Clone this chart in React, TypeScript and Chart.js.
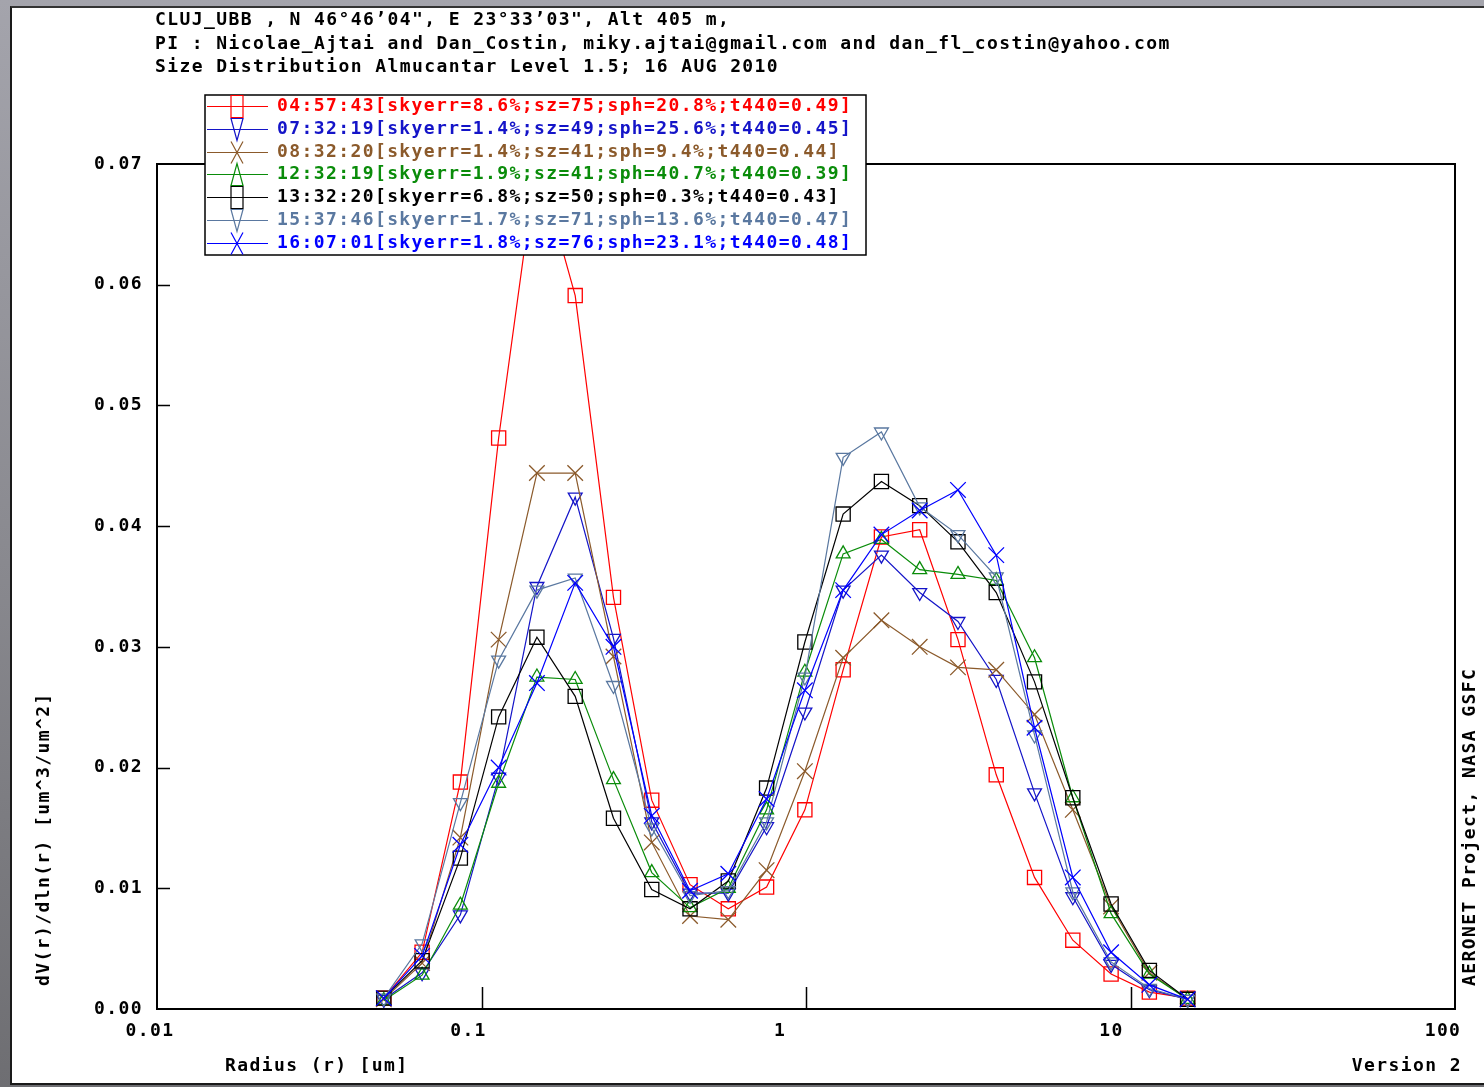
import React, { useEffect, useRef } from 'react';
import { Chart, registerables } from 'chart.js';
Chart.register(...registerables);

// Radius bins (um)
const radii = [0.05, 0.065604, 0.086077, 0.112939, 0.148184, 0.194429, 0.255105, 0.334716, 0.439173, 0.576227, 0.756052, 0.991996, 1.301571, 1.707757, 2.240702, 2.939966, 3.857452, 5.06126, 6.640745, 8.713145, 11.432287, 15.0];

// dV(r)/dln(r) values per retrieval
const s045743 = [0.0009, 0.0047, 0.0188, 0.0473, 0.0705, 0.0591, 0.0341, 0.0173, 0.0103, 0.0083, 0.0101, 0.0165, 0.0281, 0.0391, 0.0397, 0.0306, 0.0194, 0.0109, 0.0057, 0.0029, 0.0014, 0.0009];
const s073219 = [0.0008, 0.0030, 0.0078, 0.0192, 0.0350, 0.0424, 0.0307, 0.0155, 0.0096, 0.0096, 0.0151, 0.0246, 0.0347, 0.0376, 0.0345, 0.0321, 0.0273, 0.0179, 0.0093, 0.0037, 0.0016, 0.0008];
const s083220 = [0.0008, 0.0038, 0.0142, 0.0306, 0.0444, 0.0444, 0.0292, 0.0138, 0.0077, 0.0074, 0.0115, 0.0197, 0.0291, 0.0322, 0.0300, 0.0283, 0.0281, 0.0244, 0.0165, 0.0085, 0.0030, 0.0008];
const s123219 = [0.0007, 0.0028, 0.0086, 0.0187, 0.0275, 0.0273, 0.0190, 0.0113, 0.0084, 0.0100, 0.0165, 0.0279, 0.0377, 0.0389, 0.0364, 0.0360, 0.0355, 0.0291, 0.0175, 0.0079, 0.0029, 0.0008];
const s133220 = [0.0009, 0.0040, 0.0125, 0.0242, 0.0308, 0.0259, 0.0158, 0.0099, 0.0083, 0.0106, 0.0183, 0.0304, 0.0410, 0.0437, 0.0417, 0.0387, 0.0345, 0.0271, 0.0175, 0.0087, 0.0032, 0.0008];
const s153746 = [0.0009, 0.0054, 0.0171, 0.0289, 0.0347, 0.0357, 0.0268, 0.0150, 0.0094, 0.0098, 0.0155, 0.0275, 0.0457, 0.0478, 0.0416, 0.0393, 0.0358, 0.0227, 0.0097, 0.0039, 0.0017, 0.0008];
const s160701 = [0.0009, 0.0044, 0.0136, 0.0200, 0.0270, 0.0353, 0.0300, 0.0160, 0.0098, 0.0112, 0.0174, 0.0264, 0.0347, 0.0393, 0.0413, 0.0430, 0.0376, 0.0233, 0.0109, 0.0047, 0.0020, 0.0008];

const seriesValues = [s045743, s073219, s083220, s123219, s133220, s153746, s160701];
const seriesLabels = [
  '04:57:43[skyerr=8.6%;sz=75;sph=20.8%;t440=0.49]',
  '07:32:19[skyerr=1.4%;sz=49;sph=25.6%;t440=0.45]',
  '08:32:20[skyerr=1.4%;sz=41;sph=9.4%;t440=0.44]',
  '12:32:19[skyerr=1.9%;sz=41;sph=40.7%;t440=0.39]',
  '13:32:20[skyerr=6.8%;sz=50;sph=0.3%;t440=0.43]',
  '15:37:46[skyerr=1.7%;sz=71;sph=13.6%;t440=0.47]',
  '16:07:01[skyerr=1.8%;sz=76;sph=23.1%;t440=0.48]',
];
const seriesColors = ['#ff0000', '#1414c8', '#8b5a2b', '#0a8c0a', '#000000', '#5a78a0', '#0000ff'];
const seriesMarkers = ['square', 'down', 'x', 'up', 'square', 'down', 'x'];

const xTicks = [0.01, 0.1, 1, 10, 100];
const xTickLabels = ['0.01', '0.1', '1', '10', '100'];
const yTicks = [0, 0.01, 0.02, 0.03, 0.04, 0.05, 0.06, 0.07];

const titleLines = [
  'CLUJ_UBB , N 46\u00b046\u201904", E 23\u00b033\u201903", Alt 405 m,',
  'PI : Nicolae_Ajtai and Dan_Costin, miky.ajtai@gmail.com and dan_fl_costin@yahoo.com',
  'Size Distribution Almucantar Level 1.5; 16 AUG 2010',
];
const xTitle = 'Radius (r) [um]';
const yTitle = 'dV(r)/dln(r) [um^3/um^2]';
const versionText = 'Version 2';
const sideText = 'AERONET Project, NASA GSFC';

const FONT_FAMILY = '"DejaVu Sans Mono", "Liberation Mono", monospace';
const FONT = `bold 18px ${FONT_FAMILY}`;
const SPACING = '1.4px';
// horizontal nudges of the x tick labels relative to their tick (style only)
const X_LABEL_NUDGE = [-7, -13, -26, -19, -12];

function markerStyle(m: string) {
  if (m === 'square') return { pointStyle: 'rect', radius: 10, rotation: 0 };
  if (m === 'down') return { pointStyle: 'triangle', radius: 8, rotation: 180 };
  if (m === 'up') return { pointStyle: 'triangle', radius: 8, rotation: 0 };
  return { pointStyle: 'crossRot', radius: 11, rotation: 0 };
}

function drawLegendMarker(ctx: CanvasRenderingContext2D, m: string, x: number, y: number) {
  const w = 6, h = 11;
  ctx.beginPath();
  if (m === 'square') {
    ctx.rect(x - w, y - h, 2 * w, 2 * h);
  } else if (m === 'down') {
    ctx.moveTo(x - w, y - h);
    ctx.lineTo(x + w, y - h);
    ctx.lineTo(x, y + h);
    ctx.closePath();
  } else if (m === 'up') {
    ctx.moveTo(x - w, y + h);
    ctx.lineTo(x + w, y + h);
    ctx.lineTo(x, y - h);
    ctx.closePath();
  } else {
    ctx.moveTo(x - w, y - h);
    ctx.lineTo(x + w, y + h);
    ctx.moveTo(x + w, y - h);
    ctx.lineTo(x - w, y + h);
  }
  ctx.stroke();
}

const framePlugin = {
  id: 'aeronetFrame',
  beforeDraw(chart: any) {
    (chart.ctx as any).letterSpacing = SPACING;
  },
  afterDatasetsDraw(chart: any) {
    const { ctx, chartArea, scales } = chart;
    const { left, top, right, bottom } = chartArea;
    ctx.save();
    ctx.strokeStyle = '#000';
    ctx.lineWidth = 2;
    ctx.strokeRect(left, top, right - left, bottom - top);
    ctx.lineWidth = 1.5;
    ctx.beginPath();
    yTicks.forEach((v) => {
      if (v === yTicks[0] || v === yTicks[yTicks.length - 1]) return;
      const py = Math.round(scales.y.getPixelForValue(v)) + 0.5;
      ctx.moveTo(left, py);
      ctx.lineTo(left + 13, py);
    });
    xTicks.forEach((v) => {
      if (v === xTicks[0] || v === xTicks[xTicks.length - 1]) return;
      const px = Math.round(scales.x.getPixelForValue(v)) + 0.5;
      ctx.moveTo(px, bottom);
      ctx.lineTo(px, bottom - 22);
    });
    ctx.stroke();

    // x tick labels
    (ctx as any).letterSpacing = SPACING;
    ctx.font = FONT;
    ctx.fillStyle = '#000';
    ctx.textAlign = 'center';
    ctx.textBaseline = 'middle';
    xTicks.forEach((v, i) => {
      const px = scales.x.getPixelForValue(v);
      ctx.fillText(xTickLabels[i], px + X_LABEL_NUDGE[i], bottom + 22);
    });
    ctx.restore();
  },
  afterDraw(chart: any) {
    const ctx = chart.ctx as CanvasRenderingContext2D;
    ctx.save();
    (ctx as any).letterSpacing = SPACING;
    ctx.font = FONT;
    ctx.textBaseline = 'middle';
    ctx.textAlign = 'left';
    ctx.fillStyle = '#000';
    // Title lines
    const titleY = [20, 44, 67];
    titleLines.forEach((t, i) => ctx.fillText(t, 155, titleY[i]));

    // Legend box
    const lx = 205, ly = 95, lw = 661, lh = 160;
    ctx.fillStyle = '#fff';
    ctx.fillRect(lx, ly, lw, lh);
    ctx.strokeStyle = '#000';
    ctx.lineWidth = 1.5;
    ctx.strokeRect(lx, ly, lw, lh);
    const rowStart = 106, rowStep = 22.8;
    seriesLabels.forEach((label, i) => {
      const ry = Math.round(rowStart + i * rowStep) + 0.5;
      ctx.strokeStyle = seriesColors[i];
      ctx.lineWidth = 1.2;
      ctx.beginPath();
      ctx.moveTo(207, ry);
      ctx.lineTo(268, ry);
      ctx.stroke();
      drawLegendMarker(ctx, seriesMarkers[i], 237, ry);
      ctx.fillStyle = seriesColors[i];
      ctx.fillText(label, 277, ry);
    });

    // Axis titles
    ctx.fillStyle = '#000';
    ctx.fillText(xTitle, 225, 1066);
    ctx.textAlign = 'right';
    ctx.fillText(versionText, 1462, 1066);

    ctx.save();
    ctx.translate(44, 986);
    ctx.rotate(-Math.PI / 2);
    ctx.textAlign = 'left';
    ctx.fillText(yTitle, 0, 0);
    ctx.restore();

    ctx.save();
    ctx.translate(1470, 986);
    ctx.rotate(-Math.PI / 2);
    ctx.textAlign = 'left';
    ctx.fillText(sideText, 0, 0);
    ctx.restore();

    ctx.restore();
  },
};

export default function App() {
  const ref = useRef<HTMLCanvasElement>(null);
  useEffect(() => {
    const canvas = ref.current;
    if (!canvas) return;
    const n = seriesValues.length;
    const datasets = seriesValues.map((vals, i) => {
      const mk = markerStyle(seriesMarkers[i]);
      return {
        label: seriesLabels[i],
        data: vals.map((v, j) => ({ x: radii[j], y: v })),
        borderColor: seriesColors[i],
        backgroundColor: 'transparent',
        borderWidth: 1.2,
        tension: 0,
        pointStyle: mk.pointStyle,
        pointRadius: mk.radius,
        pointRotation: mk.rotation,
        pointBorderColor: seriesColors[i],
        pointBackgroundColor: 'rgba(0,0,0,0)',
        pointBorderWidth: 1.3,
        fill: false,
        order: n - i,
      };
    });
    const tickFont = { family: FONT_FAMILY, size: 18, weight: 'bold' as const };
    const chart = new Chart(canvas, {
      type: 'line',
      data: { datasets: datasets as any },
      options: {
        responsive: false,
        animation: false,
        devicePixelRatio: 1,
        parsing: false as any,
        layout: { padding: { left: 0, top: 164, right: 29, bottom: 0 } },
        plugins: {
          legend: { display: false },
          tooltip: { enabled: false },
          title: { display: false },
        },
        scales: {
          x: {
            type: 'logarithmic',
            min: 0.01,
            max: 100,
            afterBuildTicks: (s: any) => {
              s.ticks = xTicks.map((v) => ({ value: v }));
            },
            afterFit: (s: any) => {
              s.height = 78;
            },
            grid: { display: false, drawTicks: false },
            border: { display: false },
            ticks: { display: false },
          },
          y: {
            type: 'linear',
            min: 0,
            max: 0.07,
            afterBuildTicks: (s: any) => {
              s.ticks = yTicks.map((v) => ({ value: v }));
            },
            afterFit: (s: any) => {
              s.width = 157;
            },
            grid: { display: false, drawTicks: false },
            border: { display: false },
            ticks: {
              padding: 14,
              color: '#000',
              font: tickFont,
              callback: (v: any) => Number(v).toFixed(2),
            },
          },
        },
      } as any,
      plugins: [framePlugin as any],
    });
    return () => chart.destroy();
  }, []);

  return (
    <div
      style={{
        position: 'fixed',
        left: 0,
        top: 0,
        width: 1484,
        height: 1087,
        background: 'linear-gradient(180deg, #a4a4ac 0%, #8a8a90 50%, #6e6e72 100%)',
        overflow: 'hidden',
      }}
    >
      <div
        style={{
          position: 'absolute',
          left: 10,
          top: 6,
          width: 1474,
          height: 1079,
          background: '#fff',
          borderLeft: '2px solid #1a1a1a',
          borderTop: '2px solid #333',
          borderBottom: '2px solid #1a1a1a',
          boxSizing: 'border-box',
        }}
      />
      <canvas
        ref={ref}
        width={1484}
        height={1087}
        style={{ position: 'absolute', left: 0, top: 0, width: 1484, height: 1087 }}
      />
    </div>
  );
}
